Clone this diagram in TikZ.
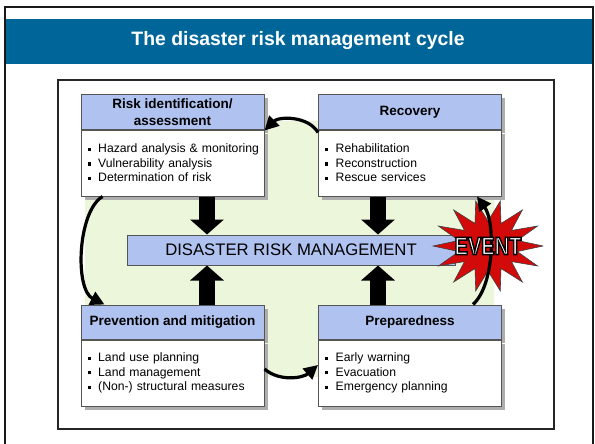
\documentclass[tikz,border=0pt]{standalone}
\usepackage{fontspec}
\setmainfont{Liberation Sans}
\newfontfamily\eventfont{Liberation Sans}[FakeStretch=0.8]
\usetikzlibrary{arrows.meta,shadows}
\definecolor{titleblue}{RGB}{0,102,153}
\definecolor{hdrblue}{RGB}{176,194,240}
\definecolor{cyclegreen}{RGB}{236,246,218}
\definecolor{boxborder}{RGB}{85,85,85}
\definecolor{eventred}{RGB}{210,10,10}
\newcommand\bul{\hspace*{6.5pt}\rule[1.8pt]{3.2pt}{3.2pt}\hspace{7.5pt}}
\begin{document}
\begin{tikzpicture}[x=1pt,y=-1pt,
  shadowed/.style={drop shadow={shadow xshift=3.5pt,shadow yshift=-3.5pt,fill=black!32,opacity=1}},
  hdr/.style={draw=boxborder,line width=1pt,fill=hdrblue,minimum width=183pt,minimum height=34pt,
    inner sep=0pt,font=\fontsize{13.5}{17.5}\selectfont\bfseries,align=center,shadowed},
  bodybox/.style={draw=boxborder,line width=1pt,fill=white,text width=183pt,inner xsep=0pt,
    inner ysep=0pt,minimum height=66pt,align=left,font=\fontsize{12.2}{14.6}\selectfont,shadowed},
  bar/.style={draw=boxborder,line width=1pt,fill=hdrblue,minimum width=328pt,minimum height=30pt,
    inner sep=0pt,font=\fontsize{16.7}{19}\selectfont},
  blockarrow/.style={line width=16pt,-{Triangle[length=15pt,width=33pt]},black},
  cyclearrow/.style={line width=3.2pt,-{Triangle[length=14pt,width=14pt]},black},
]
\useasboundingbox (0,0) rectangle (595,444);
\fill[white] (0,0) rectangle (595,444);
% outer frame and title band
\fill[titleblue] (6,19) rectangle (593,64);
\draw[line width=2pt,black!90] (5,7) rectangle (593,450);
\node[font=\fontsize{19.4}{22}\selectfont\bfseries,text=white] (title) at (298,41) {The disaster risk management cycle};
% inner frame
\draw[line width=1.2pt,black!85] (58,80) rectangle (554,429);
% green cycle background
\fill[cyclegreen] (85,121) [rounded corners=45pt] rectangle (494,377);
% boxes
\node[hdr] (riskh) at (172.5,112) {Risk identification/\\assessment};
\node[bodybox,anchor=north] (riskb) at (riskh.south) {\bul Hazard analysis \& monitoring\\\bul Vulnerability analysis\\\bul Determination of risk};
\node[hdr] (recoh) at (410,112) {Recovery};
\node[bodybox,anchor=north] (recob) at (recoh.south) {\bul Rehabilitation\\\bul Reconstruction\\\bul Rescue services};
\node[hdr] (prevh) at (172.5,322) {Prevention and mitigation};
\node[bodybox,anchor=north] (prevb) at (prevh.south) {\bul Land use planning\\\bul Land management\\\bul (Non-) structural measures};
\node[hdr] (preph) at (410,322) {Preparedness};
\node[bodybox,anchor=north] (prepb) at (preph.south) {\bul Early warning\\\bul Evacuation\\\bul Emergency planning};
% central bar
\node[bar] (drm) at (291,250) {DISASTER RISK MANAGEMENT};
% block arrows
\draw[blockarrow] ([xshift=34.5pt]riskb.south) -- ([xshift=34.5pt]riskb.south |- drm.north);
\draw[blockarrow] ([xshift=-32pt]recob.south) -- ([xshift=-32pt]recob.south |- drm.north);
\draw[blockarrow] ([xshift=34.5pt]prevh.north) -- ([xshift=34.5pt]prevh.north |- drm.south);
\draw[blockarrow] ([xshift=-32pt]preph.north) -- ([xshift=-32pt]preph.north |- drm.south);
% event star
\coordinate (ev) at (488,246);
\draw[fill=eventred,draw=black!75,line width=0.6pt,shift={(ev)}]
  (0:55 and 46) \foreach \i in {0,...,13}{ -- ({\i*25.714+12.857}:30 and 25) -- ({(\i+1)*25.714}:55 and 46)} -- cycle;
% cycle arrows
\draw[cyclearrow] ([yshift=-3pt]recob.north west) .. controls +(-10,-17) and +(14,-14) .. ([yshift=-1pt]riskb.north east);
\draw[cyclearrow] ([xshift=22pt]riskb.south west) .. controls +(-25,15) and +(-30,-15) .. ([xshift=24pt]prevh.north west);
\draw[cyclearrow] ([yshift=4pt]prevb.east) .. controls +(15,13) and +(-15,13) .. ([yshift=8pt]prepb.west);
\draw[cyclearrow] ([xshift=-29pt]preph.north east) .. controls +(22,-20) and +(18,25) .. ([xshift=-25pt]recob.south east);
% event text
\node[text=white,font=\eventfont\bfseries\fontsize{25}{25}\selectfont] (evt) at (ev)
  {\special{pdf:literal direct 2 Tr 1.4 w 0 G}EVENT\special{pdf:literal direct 0 Tr}};
\end{tikzpicture}
\end{document}
